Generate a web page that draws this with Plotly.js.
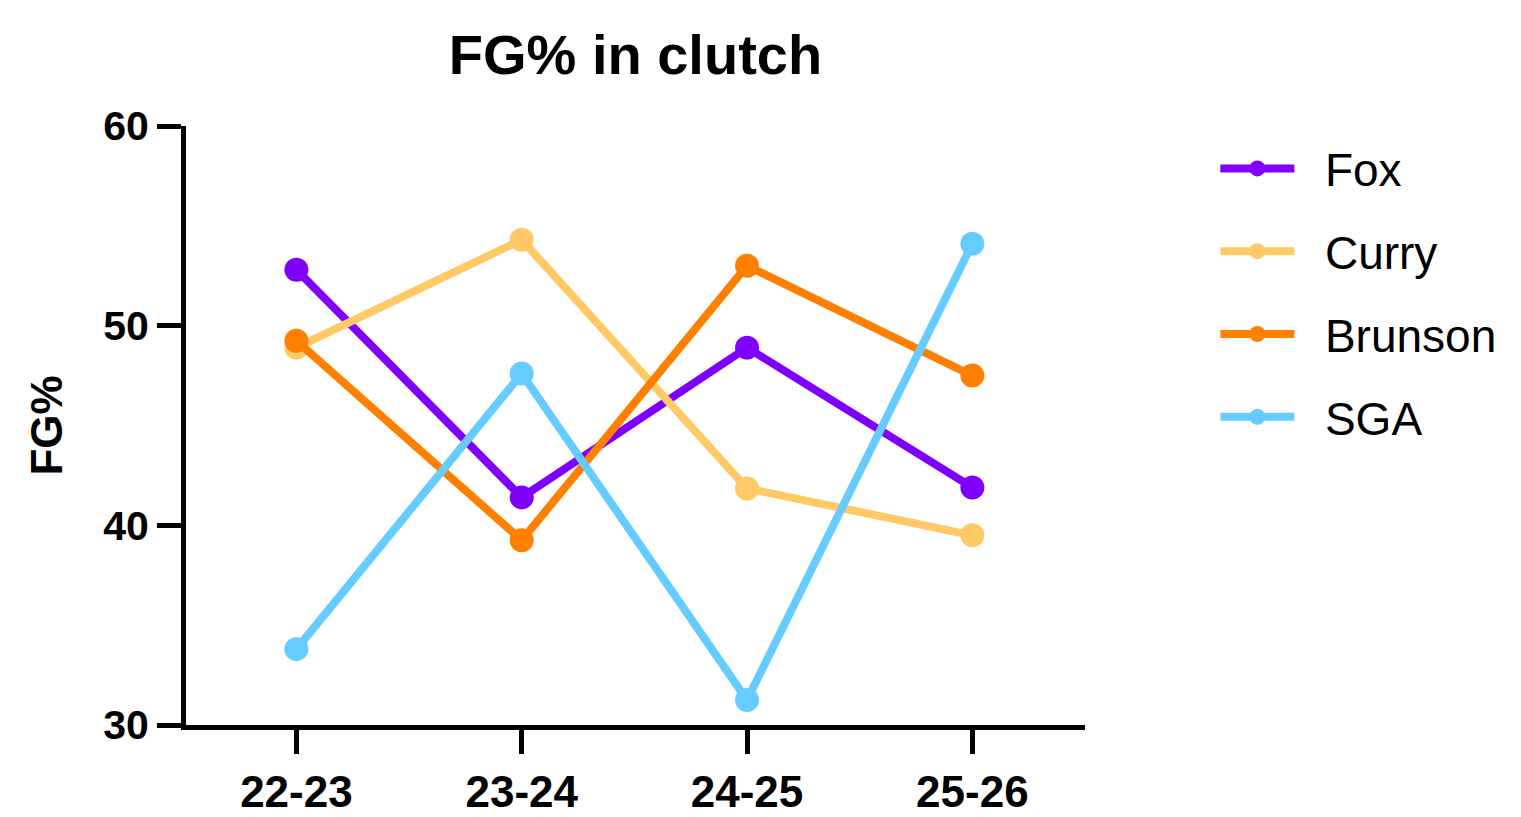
<!DOCTYPE html>
<html>
<head>
<meta charset="utf-8">
<script src="https://cdn.plot.ly/plotly-3.0.1.min.js"></script>
<style>
  html, body { margin: 0; padding: 0; background: #fff; }
  #chart { width: 1521px; height: 817px; }
</style>
</head>
<body>
<div id="chart"></div>
<script>
// seasons on the x axis
var seasons = ["22-23", "23-24", "24-25", "25-26"];

// clutch FG% per player
var fox = [52.8, 41.4, 48.9, 41.9];
var curry = [48.9, 54.3, 41.85, 39.5];
var brunson = [49.25, 39.25, 53.0, 47.5];
var sga = [33.8, 47.6, 31.25, 54.1];

var players = ["Fox", "Curry", "Brunson", "SGA"];
var colors = ["#8000FF", "#FFC966", "#FF8000", "#66CCFF"];
var series = [fox, curry, brunson, sga];

var data = [];
for (var i = 0; i < series.length; i++) {
  data.push({
    x: seasons,
    y: series[i],
    name: "\u00a0\u00a0" + players[i],
    legendgroup: players[i],
    type: "scatter",
    mode: "lines+markers",
    line: { color: colors[i], width: 8 },
    marker: { color: colors[i], size: 24 }
  });
}

var font = "Liberation Sans, Arial, Helvetica, sans-serif";

var layout = {
  width: 1521,
  height: 817,
  margin: { l: 186, r: 436, t: 126, b: 92 },
  paper_bgcolor: "#fff",
  plot_bgcolor: "#fff",
  font: { family: font, color: "#000" },
  title: {
    text: "<b>FG% in clutch</b>",
    font: { size: 56, family: font, color: "#000" },
    x: 0.4178, xanchor: "center",
    y: 0.933, yanchor: "middle"
  },
  xaxis: {
    type: "category",
    range: [-0.49, 3.5],
    showgrid: false,
    zeroline: false,
    showline: true,
    linecolor: "#000",
    linewidth: 5,
    ticks: "outside",
    ticklen: 24,
    tickwidth: 5,
    tickcolor: "#000",
    tickfont: { size: 44, family: font, color: "#000", weight: "bold" }
  },
  yaxis: {
    range: [30, 60],
    tickvals: [30, 40, 50, 60],
    showgrid: false,
    zeroline: false,
    showline: true,
    linecolor: "#000",
    linewidth: 5,
    ticks: "outside",
    ticklen: 24,
    tickwidth: 5,
    tickcolor: "#000",
    tickfont: { size: 41, family: font, color: "#000", weight: "bold" },
    title: {
      text: "<b>FG%</b>",
      font: { size: 44, family: font, color: "#000" },
      standoff: 28
    }
  },
  legend: {
    x: 1.145, xanchor: "left",
    y: 0.99, yanchor: "top",
    font: { size: 46, family: font, color: "#000" },
    itemwidth: 74,
    tracegroupgap: 20,
    bgcolor: "rgba(0,0,0,0)"
  },
  showlegend: true
};

Plotly.newPlot("chart", data, layout, { displayModeBar: false });
</script>
</body>
</html>
